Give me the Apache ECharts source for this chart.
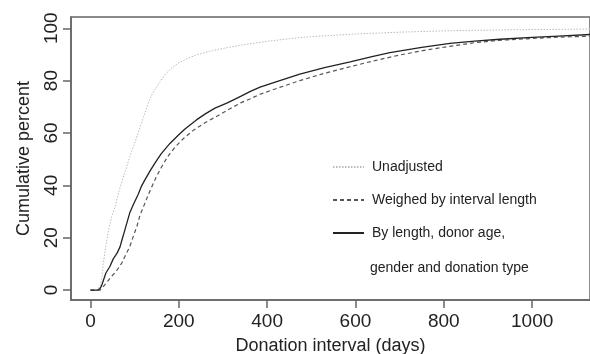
<!DOCTYPE html>
<html><head><meta charset="utf-8">
<script src="https://cdn.jsdelivr.net/npm/echarts@6/dist/echarts.min.js"></script>
<style>html,body{margin:0;padding:0;background:#fff}#c{width:590px;height:354px}</style>
</head><body><div id="c"></div>
<script>
const unadjDays = [0,15,22,26,29,35,40,48,56,65,74,82,89,100,110,120,130,140,155,170,185,200,220,240,270,300,350,400,450,500,600,700,800,900,1000,1140];
const unadjVals = [0,0,1.5,5,10,17,22,28,32,38,43,47,51,56,61,66,71,75,79,82.5,85,86.8,88.5,89.8,91.2,92.3,93.8,95,96,96.8,97.8,98.5,99,99.3,99.5,99.7];

const weighDays = [0,22,29,35,42,48,55,63,71,80,89,97,105,112,120,130,139,150,161,175,191,210,233,260,282,308,340,361,384,430,474,530,588,640,701,760,814,870,927,1000,1060,1140];
const weighVals = [0,0,1.3,2.5,4,5.3,6.5,8.3,10.3,13.5,16.5,20.5,24.2,28.5,31.8,36,39.5,43.5,47,51,54.5,57.8,61,64,66,68.5,71.5,73,74.8,77.5,80,82.8,85.3,87.5,89.8,91.7,93.1,94.5,95.4,96.1,96.6,97];

const adjDays = [0,17,22,25,30,35,44,52,60,67,72,78,84,89,98,108,115,123,135,146,160,180,200,214,240,260,282,310,340,361,384,420,474,530,588,640,678,750,814,870,927,1000,1060,1140];
const adjVals = [0,0,0.7,1.5,4,6.5,9,12,14,16.5,19.5,23,26.5,29.5,33,36.5,39.5,42,45.5,48.5,52,56,59.3,61.5,65,67.3,69.5,71.5,74,75.8,77.5,79.5,82.5,85,87.2,89.3,90.7,92.7,94.2,95.1,95.8,96.5,97,97.7];

const xTicks = [0,200,400,600,800,1000];
const yTicks = [0,20,40,60,80,100];
const seriesNames = ['Unadjusted','Weighed by interval length','By length, donor age, gender and donation type'];
const legendLines = ['Unadjusted','Weighed by interval length','By length, donor age,','gender and donation type'];
const xTitle = 'Donation interval (days)';
const yTitle = 'Cumulative percent';

function pairs(d, v) { return d.map((x, i) => [x, v[i]]); }

const chart = echarts.init(document.getElementById('c'), null, {renderer: 'canvas'});
const axisCol = '#666';
const txtCol = '#222';
const font = 'Liberation Sans, Arial, sans-serif';
chart.setOption({
  animation: false,
  textStyle: {fontFamily: font},
  grid: {left: 71, top: 17, right: 0, bottom: 54, show: true, borderColor: axisCol, borderWidth: 1.5,
         containLabel: false, outerBoundsMode: 'none'},
  xAxis: {
    type: 'value', min: -44, max: 1131,
    axisLine: {show: true, onZero: false, lineStyle: {color: axisCol, width: 1.5}},
    axisTick: {show: true, inside: false, length: 8, customValues: xTicks, lineStyle: {color: axisCol, width: 1.5}},
    axisLabel: {customValues: xTicks, margin: 12, fontSize: 19, color: txtCol, fontFamily: font, formatter: v => String(v)},
    splitLine: {show: false},
    name: xTitle, nameLocation: 'middle', nameGap: 37,
    nameTextStyle: {fontSize: 18, color: txtCol, fontFamily: font}
  },
  yAxis: {
    type: 'value', min: -3.8, max: 104.3,
    axisLine: {show: true, onZero: false, lineStyle: {color: axisCol, width: 1.5}},
    axisTick: {show: true, inside: false, length: 8, customValues: yTicks, lineStyle: {color: axisCol, width: 1.5}},
    axisLabel: {customValues: yTicks, margin: 10, rotate: 90, fontSize: 19, color: txtCol, fontFamily: font},
    splitLine: {show: false},
    name: yTitle, nameLocation: 'middle', nameGap: 38,
    nameTextStyle: {fontSize: 18, color: txtCol, fontFamily: font}
  },
  legend: {
    orient: 'vertical', left: 327, top: 155, itemWidth: 31, itemHeight: 14, itemGap: 19,
    data: seriesNames,
    itemStyle: {opacity: 0},
    formatter: n => n === seriesNames[2] ? legendLines[2] : n,
    textStyle: {fontSize: 14, color: txtCol, fontFamily: font, padding: [0, 0, 0, 3]}
  },
  graphic: [{
    type: 'text', left: 370, top: 261,
    style: {text: legendLines[3], fontSize: 14, fill: txtCol, fontFamily: font}
  }],
  series: [
    {name: seriesNames[0], type: 'line', data: pairs(unadjDays, unadjVals), showSymbol: false, symbol: 'none', color: '#bbb',
     lineStyle: {color: '#bbb', width: 1, type: [1.5, 1.5]}},
    {name: seriesNames[1], type: 'line', data: pairs(weighDays, weighVals), showSymbol: false, symbol: 'none', color: '#555',
     lineStyle: {color: '#555', width: 1.2, type: [4, 3]}},
    {name: seriesNames[2], type: 'line', data: pairs(adjDays, adjVals), showSymbol: false, symbol: 'none', color: '#222',
     lineStyle: {color: '#222', width: 1.3}}
  ]
});
</script></body></html>
